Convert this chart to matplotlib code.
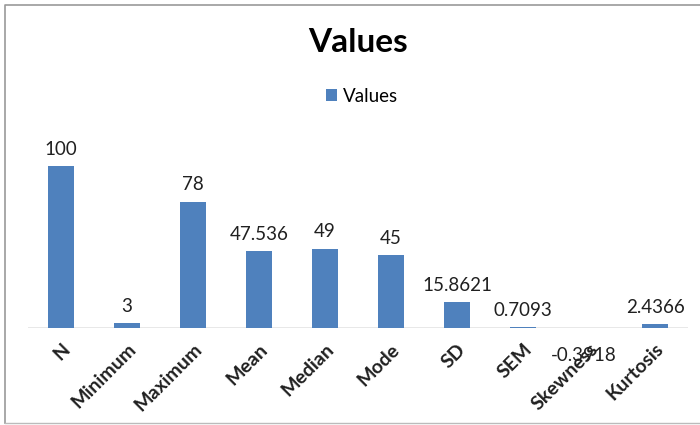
import matplotlib.pyplot as plt
from matplotlib.lines import Line2D

categories = ["N", "Minimum", "Maximum", "Mean", "Median", "Mode",
              "SD", "SEM", "Skewness", "Kurtosis"]
values = [100, 3, 78, 47.536, 49, 45, 15.8621, 0.7093, -0.3918, 2.4366]
labels = ["100", "3", "78", "47.536", "49", "45", "15.8621", "0.7093",
          "-0.3918", "2.4366"]

plt.rcParams["font.family"] = ["Lato", "DejaVu Sans"]

W, H = 700, 425
fig = plt.figure(figsize=(7, 4.25), dpi=100)

# axes placed in pixel terms: x from 28 to 688, zero line at y=328
ax_left, ax_right = 28, 688
ax_bottom, ax_top = 328, 140
ax = fig.add_axes([ax_left / W, 1 - ax_bottom / H,
                   (ax_right - ax_left) / W, (ax_bottom - ax_top) / H])

x = range(len(categories))
ax.bar(x, values, width=0.4, color="#4F81BD", label="Values", zorder=2)
ax.axhline(0, color="#8c8c8c", lw=1, zorder=1)

ax.set_xlim(-0.5, len(categories) - 0.5)
ax.set_ylim(0, 116)
for s in ax.spines.values():
    s.set_visible(False)
ax.set_yticks([])
ax.set_xticks(list(x))
ax.set_xticklabels(categories, rotation=45, ha="right",
                   rotation_mode="anchor", fontsize=14, fontweight="bold",
                   color="#202020")
ax.tick_params(axis="x", length=0, pad=9)

for xi, v, lab in zip(x, values, labels):
    if v >= 0:
        ax.annotate(lab, (xi, v), xytext=(0, 6), textcoords="offset points",
                    ha="center", va="bottom", fontsize=13.5, color="#202020")
    else:
        ax.annotate(lab, (xi - 0.08, v), xytext=(0, -13),
                    textcoords="offset points", ha="center", va="top",
                    fontsize=13.5, color="#202020", annotation_clip=False)

fig.text(358 / W, 1 - 43 / H, "Values", ha="center", va="center",
         fontsize=24, fontweight="bold", color="black")
ax.legend(loc="center", bbox_to_anchor=(362 / W, 1 - 96 / H),
          bbox_transform=fig.transFigure, frameon=False, fontsize=13.5,
          handlelength=0.6, handleheight=0.6, handletextpad=0.35)

# chart area border (left, top, bottom)
fig.add_artist(Line2D([5 / W, 5 / W, 1.0], [1 - 423 / H, 1 - 5 / H, 1 - 5 / H],
                      transform=fig.transFigure, color="#999999", lw=1.2))
fig.add_artist(Line2D([5 / W, 1.0], [1 - 423 / H, 1 - 423 / H],
                      transform=fig.transFigure, color="#bbbbbb", lw=1.0))

fig.savefig("out.png", dpi=100)
